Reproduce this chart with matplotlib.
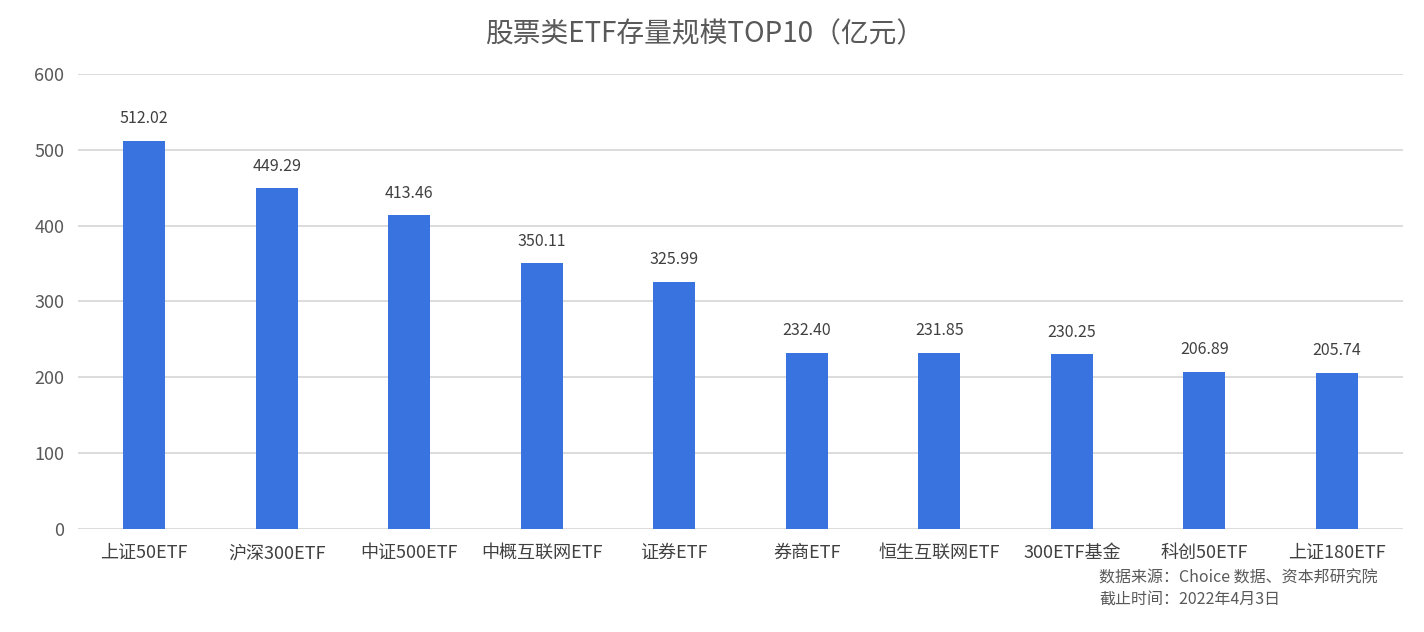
import matplotlib
matplotlib.use("Agg")
import matplotlib.pyplot as plt

plt.rcParams['font.family'] = ['Noto Sans CJK SC', 'DejaVu Sans']

categories = ["上证50ETF", "沪深300ETF", "中证500ETF", "中概互联网ETF", "证券ETF",
              "券商ETF", "恒生互联网ETF", "300ETF基金", "科创50ETF", "上证180ETF"]
values = [512.02, 449.29, 413.46, 350.11, 325.99, 232.40, 231.85, 230.25, 206.89, 205.74]
yticks = [0, 100, 200, 300, 400, 500, 600]

fig = plt.figure(figsize=(14.24, 6.32), dpi=100)
ax = fig.add_axes([0.0548, 0.163, 0.9305, 0.72])

x = list(range(len(categories)))
ax.bar(x, values, width=0.315, color="#3873E0", zorder=3)
for xi, v in zip(x, values):
    ax.text(xi, v + 18, f"{v:.2f}", ha="center", va="bottom", fontsize=11.5, color="#404040")

ax.set_xlim(-0.5, len(categories) - 0.5)
ax.set_ylim(0, 600)
ax.set_yticks(yticks)
ax.set_yticklabels([str(t) for t in yticks], fontsize=13, color="#595959")
ax.set_xticks(x)
ax.set_xticklabels(categories, fontsize=13, color="#404040")
ax.grid(axis="y", color="#d9d9d9", linewidth=1.3, zorder=0)
for s in ax.spines.values():
    s.set_visible(False)
ax.tick_params(axis="y", length=0, pad=10)
ax.tick_params(axis="x", length=0, pad=11)

fig.text(0.495, 0.945, "股票类ETF存量规模TOP10（亿元）", ha="center", va="center",
         fontsize=20, color="#595959")
fig.text(0.772, 0.085, "数据来源：Choice 数据、资本邦研究院", ha="left", va="center",
         fontsize=11.5, color="#595959")
fig.text(0.772, 0.050, "截止时间：2022年4月3日", ha="left", va="center",
         fontsize=11.5, color="#595959")

fig.savefig("out.png", dpi=100)
